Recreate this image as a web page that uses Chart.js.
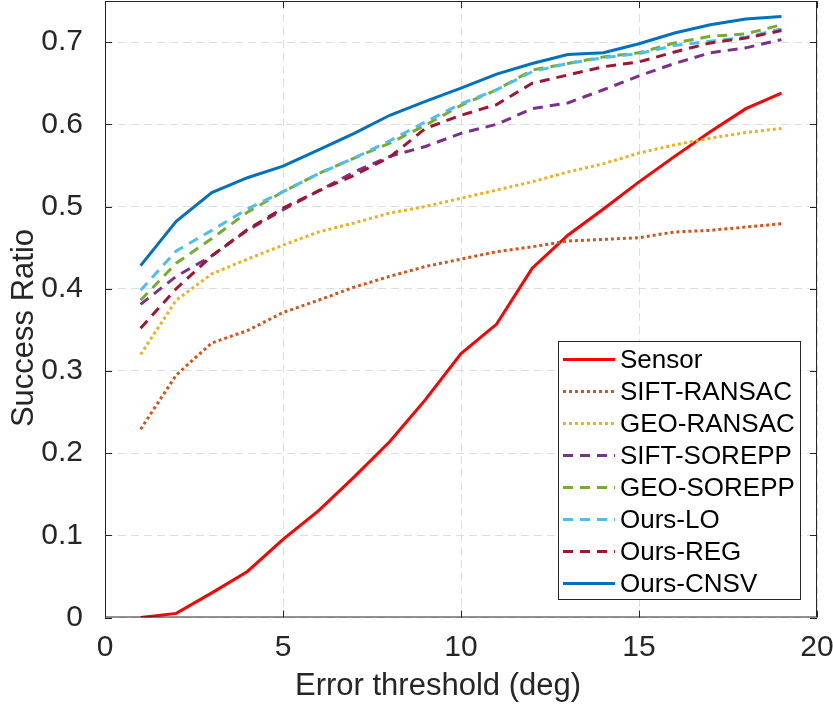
<!DOCTYPE html>
<html>
<head>
<meta charset="utf-8">
<script src="https://cdn.jsdelivr.net/npm/chart.js@4.4.1/dist/chart.umd.min.js"></script>
<style>
body { margin: 0; background: #fff; }
</style>
</head>
<body>
<canvas id="myChart" width="833" height="708"></canvas>
<script>
// error thresholds (deg)
var thresholds = [1,2,3,4,5,6,7,8,9,10,11,12,13,14,15,16,17,18,19];

var sensor     = [0.000,0.005,0.030,0.056,0.095,0.130,0.171,0.214,0.265,0.321,0.357,0.425,0.465,0.497,0.530,0.561,0.591,0.619,0.638];
var siftRansac = [0.229,0.295,0.334,0.349,0.371,0.386,0.402,0.415,0.427,0.436,0.445,0.451,0.458,0.460,0.462,0.469,0.471,0.475,0.479];
var geoRansac  = [0.320,0.386,0.418,0.436,0.453,0.469,0.480,0.492,0.500,0.510,0.520,0.530,0.542,0.552,0.565,0.575,0.583,0.590,0.595];
var siftSorepp = [0.381,0.415,0.440,0.471,0.496,0.519,0.542,0.561,0.573,0.589,0.600,0.619,0.626,0.642,0.659,0.674,0.687,0.693,0.703];
var geoSorepp  = [0.386,0.431,0.461,0.493,0.518,0.540,0.559,0.577,0.599,0.623,0.642,0.666,0.674,0.682,0.687,0.699,0.707,0.710,0.721];
var oursLO     = [0.398,0.446,0.471,0.497,0.518,0.540,0.559,0.580,0.603,0.625,0.642,0.664,0.674,0.681,0.686,0.696,0.701,0.706,0.716];
var oursREG    = [0.352,0.400,0.440,0.472,0.498,0.519,0.538,0.560,0.595,0.611,0.624,0.650,0.660,0.670,0.676,0.688,0.699,0.705,0.714];
var oursCNSV   = [0.428,0.482,0.517,0.535,0.549,0.569,0.589,0.611,0.628,0.644,0.661,0.674,0.685,0.687,0.698,0.711,0.721,0.728,0.731];

var seriesNames = ["Sensor","SIFT-RANSAC","GEO-RANSAC","SIFT-SOREPP","GEO-SOREPP","Ours-LO","Ours-REG","Ours-CNSV"];
var xTicks = [0,5,10,15,20];
var yTicks = [0,0.1,0.2,0.3,0.4,0.5,0.6,0.7];

var xTitle = "Error threshold (deg)";
var yTitle = "Success Ratio";

var FONT = "'Liberation Sans', Arial, sans-serif";
var AXIS_COLOR = "#262626";

function makePoints(values){
    var pts = [];
    for(var i=0; i<values.length; i++)
        pts.push({x: thresholds[i], y: values[i]});
    return pts;
}

function makeDataset(i, values, color, dash){
    return {
        label: seriesNames[i],
        data: makePoints(values),
        borderColor: color,
        backgroundColor: color,
        borderWidth: 3,
        borderDash: dash,
        borderCapStyle: 'butt',
        pointRadius: 0,
        tension: 0,
        fill: false,
        order: 10 - i
    };
}

var dashed = [10,7];
var dotted = [3,3];

var datasets = [
    makeDataset(0, sensor,     '#FF0000', []),
    makeDataset(1, siftRansac, '#D95319', dotted),
    makeDataset(2, geoRansac,  '#EDB120', dotted),
    makeDataset(3, siftSorepp, '#7E2F8E', dashed),
    makeDataset(4, geoSorepp,  '#77AC30', dashed),
    makeDataset(5, oursLO,     '#4DBEEE', dashed),
    makeDataset(6, oursREG,    '#A2142F', dashed),
    makeDataset(7, oursCNSV,   '#0072BD', [])
];

// axes box + inward tick marks, like matlab "box on"
var boxPlugin = {
    id: 'boxPlugin',
    afterDatasetsDraw: function(chart){
        var ctx = chart.ctx, a = chart.chartArea;
        var xs = chart.scales.x, ys = chart.scales.y;
        ctx.save();
        ctx.strokeStyle = AXIS_COLOR;
        ctx.lineWidth = 1;
        ctx.strokeRect(a.left + 0.5, a.top + 0.5, a.right - a.left - 1, a.bottom - a.top - 1);
        ctx.beginPath();
        var len = 7;
        for(var i=0; i<xTicks.length; i++){
            var px = Math.round(xs.getPixelForValue(xTicks[i])) + 0.5;
            ctx.moveTo(px, a.bottom); ctx.lineTo(px, a.bottom - len);
            ctx.moveTo(px, a.top); ctx.lineTo(px, a.top + len);
        }
        for(var j=0; j<yTicks.length; j++){
            var py = Math.round(ys.getPixelForValue(yTicks[j])) + 0.5;
            ctx.moveTo(a.left, py); ctx.lineTo(a.left + len, py);
            ctx.moveTo(a.right, py); ctx.lineTo(a.right - len, py);
        }
        ctx.stroke();
        ctx.restore();
    },
    afterDraw: function(chart){
        var ctx = chart.ctx;
        ctx.save();
        // axis titles
        ctx.fillStyle = AXIS_COLOR;
        ctx.font = "31px " + FONT;
        ctx.textAlign = 'center';
        ctx.textBaseline = 'alphabetic';
        ctx.fillText(xTitle, 438, 695);
        ctx.translate(33, 328);
        ctx.rotate(-Math.PI/2);
        ctx.fillText(yTitle, 0, 0);
        ctx.restore();

        // legend
        var lx = 558.5, ly = 341.5, lw = 242, lh = 258;
        ctx.save();
        ctx.fillStyle = '#ffffff';
        ctx.fillRect(lx, ly, lw, lh);
        ctx.strokeStyle = AXIS_COLOR;
        ctx.lineWidth = 1;
        ctx.strokeRect(lx, ly, lw, lh);
        ctx.font = "26px " + FONT;
        ctx.textAlign = 'left';
        ctx.textBaseline = 'middle';
        var ds = chart.data.datasets;
        for(var i=0; i<ds.length; i++){
            var cy = 359.5 + 32*i;
            ctx.beginPath();
            ctx.strokeStyle = ds[i].borderColor;
            ctx.lineWidth = ds[i].borderWidth;
            ctx.setLineDash(ds[i].borderDash);
            ctx.moveTo(563, cy);
            ctx.lineTo(615, cy);
            ctx.stroke();
            ctx.setLineDash([]);
            ctx.fillStyle = '#000000';
            ctx.fillText(ds[i].label, 620, cy + 1);
        }
        ctx.restore();
    }
};

const config = {
    type: 'line',
    data: { datasets: datasets },
    options: {
        responsive: false,
        animation: false,
        devicePixelRatio: 1,
        layout: { padding: { top: 1, right: 16, left: 0, bottom: 0 } },
        plugins: {
            legend: { display: false },
            tooltip: { enabled: false }
        },
        scales: {
            x: {
                type: 'linear',
                min: 0, max: 20,
                afterBuildTicks: function(scale){
                    scale.ticks = xTicks.map(function(v){ return {value: v}; });
                },
                afterFit: function(scale){
                    scale.height = 90.5;
                    scale.paddingLeft = 0;
                    scale.paddingRight = 0;
                },
                grid: { color: '#dedede', lineWidth: 1, drawTicks: false },
                border: { display: false, dash: [8,5] },
                ticks: {
                    color: AXIS_COLOR,
                    font: { family: FONT, size: 30 },
                    padding: 12,
                    maxRotation: 0,
                    callback: function(v){ return String(v); }
                }
            },
            y: {
                type: 'linear',
                min: 0, max: 0.75,
                afterBuildTicks: function(scale){
                    scale.ticks = yTicks.map(function(v){ return {value: v}; });
                },
                afterFit: function(scale){
                    scale.width = 105;
                    scale.paddingTop = 0;
                    scale.paddingBottom = 0;
                },
                grid: { color: '#dedede', lineWidth: 1, drawTicks: false },
                border: { display: false, dash: [8,5] },
                ticks: {
                    color: AXIS_COLOR,
                    font: { family: FONT, size: 30 },
                    padding: 22,
                    callback: function(v){ return String(v); }
                }
            }
        }
    },
    plugins: [boxPlugin]
};

const ctx = document.getElementById('myChart').getContext('2d');
const myChart = new Chart(ctx, config);
</script>
</body>
</html>
